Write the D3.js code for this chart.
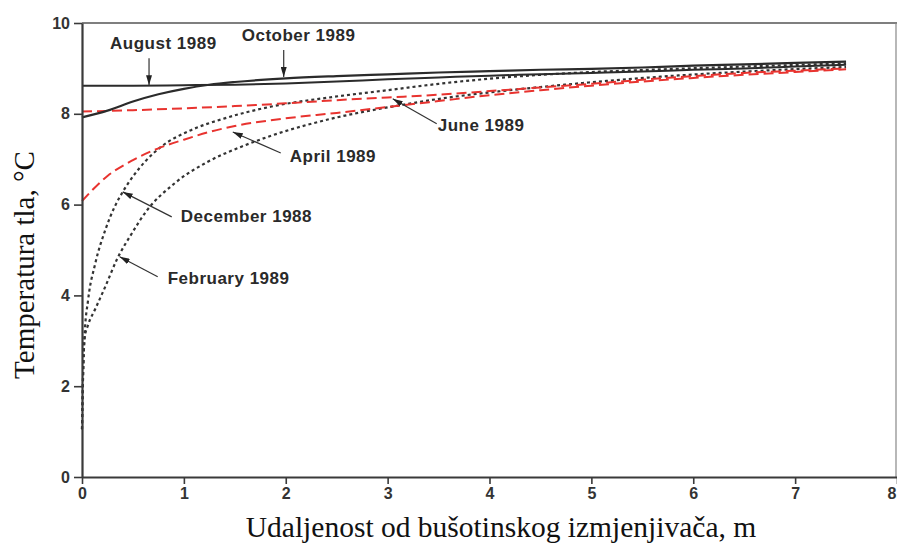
<!DOCTYPE html>
<html>
<head>
<meta charset="utf-8">
<script src="https://cdn.jsdelivr.net/npm/d3@7"></script>
<style>
  body { margin: 0; background: #fff; }
</style>
</head>
<body>
<div id="chart-area"></div>
<script>
// soil temperature (°C) vs distance from the borehole exchanger (m)
var august = [[0, 8.62], [0.5, 8.62], [1, 8.63], [1.5, 8.64], [2, 8.67], [2.5, 8.71], [3, 8.76],
    [3.5, 8.8], [4, 8.84], [4.5, 8.87], [5, 8.9], [5.5, 8.93], [6, 8.97], [6.5, 9.0], [7, 9.04], [7.5, 9.08]];
var october = [[0, 7.92], [0.25, 8.07], [0.5, 8.27], [0.75, 8.43], [1, 8.55], [1.25, 8.64], [1.5, 8.7],
    [2, 8.78], [2.5, 8.83], [3, 8.87], [3.5, 8.91], [4, 8.94], [4.5, 8.97], [5, 8.99], [5.5, 9.02],
    [6, 9.06], [6.5, 9.09], [7, 9.12], [7.5, 9.15]];
var june = [[0, 8.05], [0.5, 8.08], [1, 8.12], [1.5, 8.17], [2, 8.23], [2.5, 8.3], [3, 8.36], [3.5, 8.42],
    [4, 8.5], [4.5, 8.58], [5, 8.66], [5.5, 8.75], [6, 8.83], [6.5, 8.9], [7, 8.95], [7.5, 9.0]];
var april = [[0, 6.08], [0.25, 6.63], [0.5, 6.98], [0.75, 7.24], [1, 7.43], [1.25, 7.6], [1.5, 7.73],
    [2, 7.9], [2.5, 8.02], [3, 8.15], [3.5, 8.28], [4, 8.41], [4.5, 8.52], [5, 8.62], [5.5, 8.71],
    [6, 8.79], [6.5, 8.86], [7, 8.92], [7.5, 8.98]];
var december = [[0, 1.05], [0.01, 2.2], [0.025, 3.1], [0.06, 3.9], [0.13, 4.7], [0.23, 5.45], [0.32, 5.95],
    [0.4, 6.28], [0.5, 6.62], [0.62, 6.95], [0.78, 7.28], [1.07, 7.64], [1.4, 7.9], [1.86, 8.16],
    [2.46, 8.37], [3, 8.52], [3.5, 8.66], [4.2, 8.81], [5, 8.92], [5.57, 8.97], [6.5, 9.04], [7.5, 9.11]];
var february = [[0, 1.05], [0.01, 2.2], [0.025, 3.05], [0.06, 3.35], [0.13, 3.7], [0.23, 4.2], [0.34, 4.78],
    [0.49, 5.37], [0.63, 5.85], [0.91, 6.47], [1.24, 6.95], [1.57, 7.28], [1.86, 7.52], [2.2, 7.75],
    [2.5, 7.92], [2.85, 8.08], [3.15, 8.2], [3.6, 8.36], [4.2, 8.52], [4.78, 8.65], [5.57, 8.8],
    [6.5, 8.93], [7.5, 9.03]];

var seriesNames = ["December 1988", "February 1989", "April 1989", "June 1989", "August 1989", "October 1989"];
var seriesData = [december, february, april, june, august, october];

var xTicks = [0, 1, 2, 3, 4, 5, 6, 7, 8];
var yTicks = [0, 2, 4, 6, 8, 10];
var xTitle = "Udaljenost od bušotinskog izmjenjivača, m";
var yTitle = "Temperatura tla, °C";

var width = 897, height = 543;

var svg = d3.select("#chart-area")
    .append("svg")
    .attr("width", width)
    .attr("height", height)
    .style("display", "block");

var x = d3.scaleLinear().domain([0, 8]).range([82, 897]);
var y = d3.scaleLinear().domain([0, 10]).range([477, 23]);

// frame (top and right sides)
svg.append("line")
    .attr("x1", x(0)).attr("x2", x(8))
    .attr("y1", y(10)).attr("y2", y(10))
    .attr("stroke", "#555").attr("stroke-width", 1.6);
svg.append("line")
    .attr("x1", x(8) - 1).attr("x2", x(8) - 1)
    .attr("y1", y(10)).attr("y2", y(0))
    .attr("stroke", "#888").attr("stroke-width", 1.2);

// line styles per series
var styles = {
    "December 1988": {color: "#333", dash: "3,3", w: 2.2},
    "February 1989": {color: "#333", dash: "3,3", w: 2.2},
    "April 1989":    {color: "#e8332f", dash: "10,5", w: 2},
    "June 1989":     {color: "#e8332f", dash: "10,5", w: 2},
    "August 1989":   {color: "#2b2b2b", dash: null, w: 2},
    "October 1989":  {color: "#2b2b2b", dash: null, w: 2.2}
};

var line = d3.line()
    .x(function (d) { return x(d[0]); })
    .y(function (d) { return y(d[1]); })
    .curve(d3.curveMonotoneX);

seriesData.forEach(function (data, i) {
    var st = styles[seriesNames[i]];
    svg.append("path")
        .datum(data)
        .attr("d", line)
        .attr("fill", "none")
        .attr("stroke", st.color)
        .attr("stroke-width", st.w)
        .attr("stroke-dasharray", st.dash);
});

// axes
var xAxis = svg.append("g")
    .attr("transform", "translate(0," + y(0) + ")")
    .call(d3.axisBottom(x).tickValues(xTicks).tickSize(7).tickSizeOuter(0).tickPadding(4));
var yAxis = svg.append("g")
    .attr("transform", "translate(" + x(0) + ",0)")
    .call(d3.axisLeft(y).tickValues(yTicks).tickSize(8).tickSizeOuter(0).tickPadding(4));

[xAxis, yAxis].forEach(function (g) {
    g.select(".domain").attr("stroke", "#3a3a3a").attr("stroke-width", 2.2);
    g.selectAll(".tick line").attr("stroke", "#3a3a3a").attr("stroke-width", 1.6);
    g.selectAll(".tick text")
        .attr("fill", "#333")
        .style("font-family", "'Liberation Sans', Arial, sans-serif")
        .style("font-weight", "bold")
        .style("font-size", "16px");
});
// last x label sits at the right edge, keep it inside
xAxis.selectAll(".tick text").filter(function (d) { return d === 8; })
    .attr("text-anchor", "end").attr("dx", -1);

// axis titles
svg.append("text")
    .attr("x", 501).attr("y", 537)
    .attr("text-anchor", "middle")
    .style("font-family", "'Liberation Serif', 'Times New Roman', serif")
    .style("font-size", "29.5px")
    .attr("fill", "#111")
    .text(xTitle);
svg.append("text")
    .attr("transform", "translate(34,265) rotate(-90)")
    .attr("text-anchor", "middle")
    .style("font-family", "'Liberation Serif', 'Times New Roman', serif")
    .style("font-size", "29px")
    .attr("fill", "#111")
    .text(yTitle);

// arrow head
svg.append("defs").append("marker")
    .attr("id", "head")
    .attr("viewBox", "0 0 10 6")
    .attr("refX", 10).attr("refY", 3)
    .attr("markerUnits", "userSpaceOnUse")
    .attr("markerWidth", 10).attr("markerHeight", 6)
    .attr("orient", "auto")
    .append("path")
    .attr("d", "M0,0L10,3L0,6Z")
    .attr("fill", "#222");

// labels: arrow tip on the curve (data units), tail and text offset in px
var notes = [
    {name: "August 1989",   tip: [0.658, 8.63], tail: [0, -27], text: [-39, -36]},
    {name: "October 1989",  tip: [1.98, 8.81],  tail: [0, -27], text: [-42, -36]},
    {name: "June 1989",     tip: [3.05, 8.33],  tail: [44, 25], text: [45, 32]},
    {name: "April 1989",    tip: [1.48, 7.6],   tail: [48, 21], text: [57, 30]},
    {name: "December 1988", tip: [0.40, 6.28],  tail: [49, 25], text: [58, 30]},
    {name: "February 1989", tip: [0.37, 4.85],  tail: [38, 20], text: [48, 27]}
];

notes.forEach(function (n) {
    var tx = x(n.tip[0]), ty = y(n.tip[1]);
    svg.append("line")
        .attr("x1", tx + n.tail[0]).attr("y1", ty + n.tail[1])
        .attr("x2", tx).attr("y2", ty)
        .attr("stroke", "#333").attr("stroke-width", 1.2)
        .attr("marker-end", "url(#head)");
    svg.append("text")
        .attr("x", tx + n.text[0]).attr("y", ty + n.text[1])
        .style("font-family", "'Liberation Sans', Arial, sans-serif")
        .style("font-weight", "bold")
        .style("font-size", "17px")
        .style("letter-spacing", "0.5px")
        .attr("fill", "#2a2a2a")
        .text(n.name);
});
</script>
</body>
</html>
